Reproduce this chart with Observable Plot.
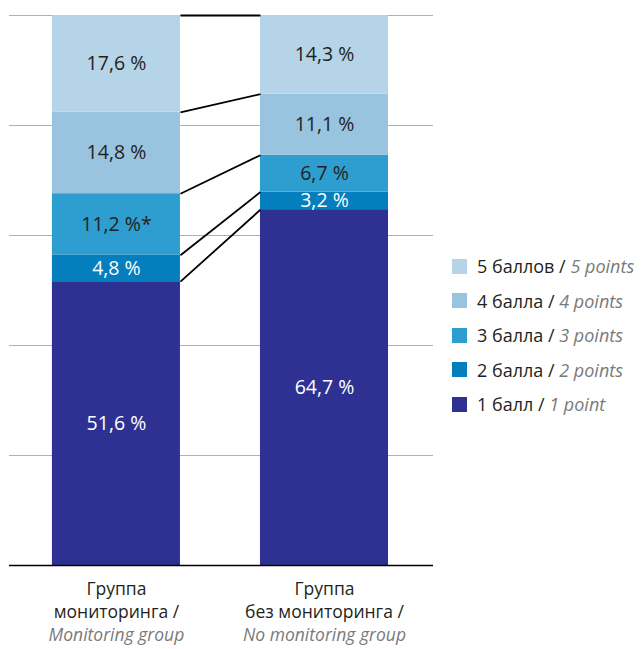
<!DOCTYPE html>
<html>
<head>
<meta charset="utf-8">
<script src="https://cdn.jsdelivr.net/npm/d3@7"></script>
<script src="https://cdn.jsdelivr.net/npm/@observablehq/plot@0.6"></script>
<style>
  body { margin: 0; background: #fff; font-family: "Open Sans", sans-serif; }
  #chart { position: relative; width: 643px; height: 649px; }
  #chart svg { display: block; }
  #legend { position: absolute; left: 452px; top: 249px; }
  .item { display: flex; align-items: center; height: 34.5px; font-size: 18px; color: #231f20; white-space: nowrap; }
  .sw { width: 15px; height: 15px; margin-right: 10px; flex: none; }
  .en { font-style: italic; color: #7a7a7a; }
</style>
</head>
<body>
<div id="chart"><div id="legend"></div></div>
<script>
// Groups (x axis), two lines in Russian plus an English line
const groupsRu = ["Группа\nмониторинга /", "Группа\nбез мониторинга /"];
const groupsEn = ["Monitoring group", "No monitoring group"];

// Score levels, bottom of the stack first
const levelsRu = ["1 балл", "2 балла", "3 балла", "4 балла", "5 баллов"];
const levelsEn = ["1 point", "2 points", "3 points", "4 points", "5 points"];
const levelColors = ["#2e3192", "#047ebd", "#2e9dcf", "#98c4df", "#b5d4e8"];

// Shares of respondents, %
const monitoring = [51.6, 4.8, 11.2, 14.8, 17.6];
const noMonitoring = [64.7, 3.2, 6.7, 11.1, 14.3];
// Significance marks appended to value labels
const monitoringNotes = ["", "", "*", "", ""];
const noMonitoringNotes = ["", "", "", "", ""];

// Horizontal grid at these percentages
const gridTicks = [20, 40, 60, 80, 100];

const series = [monitoring, noMonitoring];
const notes = [monitoringNotes, noMonitoringNotes];
const darkLevels = 2; // the two darkest segments carry white labels

const rows = series.flatMap((vals, g) => {
  const tops = d3.cumsum(vals);
  return vals.map((v, i) => ({
    g,
    i,
    level: levelsRu[i],
    y1: tops[i] - v,
    y2: tops[i],
    mid: tops[i] - v / 2,
    label: v.toFixed(1).replace(".", ",") + " %" + notes[g][i]
  }));
});

// Connectors between matching cumulative boundaries of the two bars
const topsA = d3.cumsum(monitoring);
const topsB = d3.cumsum(noMonitoring);
const links = levelsRu.map((_, i) => ({a: topsA[i], b: topsB[i]}));

const barHalf = 0.3077; // half bar width, in units of bar spacing

const plot = Plot.plot({
  width: 643,
  height: 649,
  marginLeft: 9,
  marginRight: 210,
  marginTop: 15,
  marginBottom: 84,
  x: {type: "linear", domain: [-0.514, 1.524], axis: null},
  y: {domain: [0, 100], axis: null},
  color: {domain: levelsRu, range: levelColors},
  style: {fontFamily: '"Open Sans", sans-serif', background: "white", overflow: "visible"},
  marks: [
    Plot.ruleY(gridTicks, {stroke: "#b1b1b1", strokeWidth: 1.2}),
    Plot.rect(rows, {
      x1: d => d.g - barHalf,
      x2: d => d.g + barHalf,
      y1: "y1",
      y2: "y2",
      fill: "level"
    }),
    Plot.link(links, {
      x1: () => barHalf,
      x2: () => 1 - barHalf,
      y1: "a",
      y2: "b",
      stroke: "#000",
      strokeWidth: 1.8
    }),
    Plot.ruleY([0], {stroke: "#000", strokeWidth: 1.6}),
    Plot.text(rows.filter(d => d.i < darkLevels), {
      x: "g", y: "mid", text: "label", fill: "#fff", fontSize: 19.5
    }),
    Plot.text(rows.filter(d => d.i >= darkLevels), {
      x: "g", y: "mid", text: "label", fill: "#231f20", fontSize: 19.5
    }),
    Plot.text(groupsRu, {
      x: (d, i) => i, y: () => 0, text: d => d,
      lineAnchor: "top", dy: 14, lineHeight: 1.27, fontSize: 17.5, fill: "#231f20"
    }),
    Plot.text(groupsEn, {
      x: (d, i) => i, y: () => 0, text: d => d,
      lineAnchor: "top", dy: 63, fontSize: 17.5, fill: "#7a7a7a", fontStyle: "italic"
    })
  ]
});

const chart = document.getElementById("chart");
chart.insertBefore(plot, chart.firstChild);

// Legend, top level first
const legend = document.getElementById("legend");
for (let i = levelsRu.length - 1; i >= 0; --i) {
  const item = document.createElement("div");
  item.className = "item";
  const sw = document.createElement("span");
  sw.className = "sw";
  sw.style.background = levelColors[i];
  const ru = document.createElement("span");
  ru.textContent = levelsRu[i] + " / ";
  ru.style.whiteSpace = "pre";
  const en = document.createElement("span");
  en.className = "en";
  en.textContent = levelsEn[i];
  item.append(sw, ru, en);
  legend.append(item);
}
</script>
</body>
</html>
